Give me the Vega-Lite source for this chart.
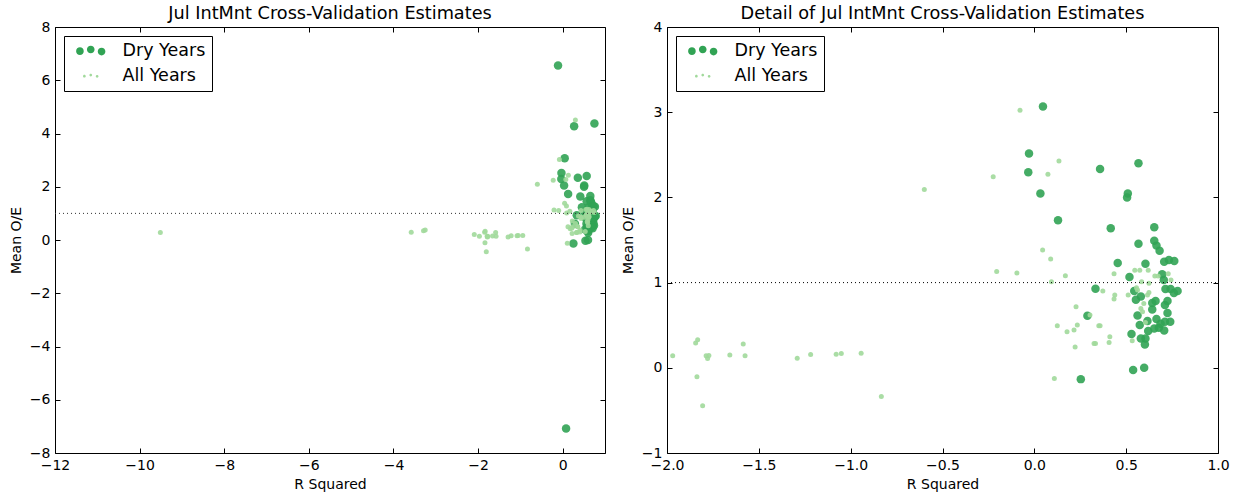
{
  "$schema": "https://vega.github.io/schema/vega-lite/v6.json",
  "padding": {"left": 8, "top": 4, "right": 5, "bottom": 5},
  "spacing": 14,
  "datasets": {
    "pts": [
      {"r2": 0.047, "oe": 3.067, "series": "Dry Years"},
      {"r2": -0.029, "oe": 2.515, "series": "Dry Years"},
      {"r2": -0.033, "oe": 2.295, "series": "Dry Years"},
      {"r2": 0.033, "oe": 2.045, "series": "Dry Years"},
      {"r2": 0.129, "oe": 1.731, "series": "Dry Years"},
      {"r2": 0.358, "oe": 2.334, "series": "Dry Years"},
      {"r2": 0.567, "oe": 2.401, "series": "Dry Years"},
      {"r2": 0.509, "oe": 2.045, "series": "Dry Years"},
      {"r2": 0.505, "oe": 1.998, "series": "Dry Years"},
      {"r2": 0.416, "oe": 1.637, "series": "Dry Years"},
      {"r2": 0.653, "oe": 1.649, "series": "Dry Years"},
      {"r2": 0.567, "oe": 1.457, "series": "Dry Years"},
      {"r2": 0.653, "oe": 1.492, "series": "Dry Years"},
      {"r2": 0.665, "oe": 1.434, "series": "Dry Years"},
      {"r2": 0.682, "oe": 1.375, "series": "Dry Years"},
      {"r2": 0.454, "oe": 1.23, "series": "Dry Years"},
      {"r2": 0.605, "oe": 1.222, "series": "Dry Years"},
      {"r2": 0.707, "oe": 1.246, "series": "Dry Years"},
      {"r2": 0.733, "oe": 1.265, "series": "Dry Years"},
      {"r2": 0.762, "oe": 1.253, "series": "Dry Years"},
      {"r2": 0.518, "oe": 1.065, "series": "Dry Years"},
      {"r2": 0.333, "oe": 0.928, "series": "Dry Years"},
      {"r2": 0.289, "oe": 0.611, "series": "Dry Years"},
      {"r2": 0.544, "oe": 0.901, "series": "Dry Years"},
      {"r2": 0.58, "oe": 0.838, "series": "Dry Years"},
      {"r2": 0.553, "oe": 0.8, "series": "Dry Years"},
      {"r2": 0.696, "oe": 1.097, "series": "Dry Years"},
      {"r2": 0.705, "oe": 1.03, "series": "Dry Years"},
      {"r2": 0.714, "oe": 0.924, "series": "Dry Years"},
      {"r2": 0.742, "oe": 0.924, "series": "Dry Years"},
      {"r2": 0.76, "oe": 0.877, "series": "Dry Years"},
      {"r2": 0.78, "oe": 0.901, "series": "Dry Years"},
      {"r2": 0.66, "oe": 0.783, "series": "Dry Years"},
      {"r2": 0.642, "oe": 0.76, "series": "Dry Years"},
      {"r2": 0.711, "oe": 0.736, "series": "Dry Years"},
      {"r2": 0.725, "oe": 0.783, "series": "Dry Years"},
      {"r2": 0.642, "oe": 0.685, "series": "Dry Years"},
      {"r2": 0.725, "oe": 0.642, "series": "Dry Years"},
      {"r2": 0.562, "oe": 0.615, "series": "Dry Years"},
      {"r2": 0.574, "oe": 0.501, "series": "Dry Years"},
      {"r2": 0.616, "oe": 0.548, "series": "Dry Years"},
      {"r2": 0.665, "oe": 0.572, "series": "Dry Years"},
      {"r2": 0.711, "oe": 0.541, "series": "Dry Years"},
      {"r2": 0.74, "oe": 0.541, "series": "Dry Years"},
      {"r2": 0.687, "oe": 0.517, "series": "Dry Years"},
      {"r2": 0.62, "oe": 0.431, "series": "Dry Years"},
      {"r2": 0.653, "oe": 0.462, "series": "Dry Years"},
      {"r2": 0.678, "oe": 0.47, "series": "Dry Years"},
      {"r2": 0.707, "oe": 0.439, "series": "Dry Years"},
      {"r2": 0.605, "oe": 0.345, "series": "Dry Years"},
      {"r2": 0.529, "oe": 0.396, "series": "Dry Years"},
      {"r2": 0.58, "oe": 0.345, "series": "Dry Years"},
      {"r2": 0.602, "oe": 0.274, "series": "Dry Years"},
      {"r2": 0.538, "oe": -0.027, "series": "Dry Years"},
      {"r2": 0.598, "oe": 0.0, "series": "Dry Years"},
      {"r2": 0.253, "oe": -0.133, "series": "Dry Years"},
      {"r2": -0.11, "oe": 6.55, "series": "Dry Years"},
      {"r2": 0.08, "oe": -7.08, "series": "Dry Years"},
      {"r2": 0.27, "oe": 4.27, "series": "Dry Years"},
      {"r2": 0.75, "oe": 4.38, "series": "Dry Years"},
      {"r2": -9.51, "oe": 0.28, "series": "All Years"},
      {"r2": -3.58, "oe": 0.29, "series": "All Years"},
      {"r2": -3.29, "oe": 0.35, "series": "All Years"},
      {"r2": -3.25, "oe": 0.38, "series": "All Years"},
      {"r2": -2.09, "oe": 0.21, "series": "All Years"},
      {"r2": -1.969, "oe": 0.141, "series": "All Years"},
      {"r2": -1.844, "oe": 0.29, "series": "All Years"},
      {"r2": -1.833, "oe": 0.33, "series": "All Years"},
      {"r2": -1.837, "oe": -0.106, "series": "All Years"},
      {"r2": -1.806, "oe": -0.446, "series": "All Years"},
      {"r2": -1.787, "oe": 0.141, "series": "All Years"},
      {"r2": -1.779, "oe": 0.11, "series": "All Years"},
      {"r2": -1.772, "oe": 0.145, "series": "All Years"},
      {"r2": -1.658, "oe": 0.149, "series": "All Years"},
      {"r2": -1.585, "oe": 0.278, "series": "All Years"},
      {"r2": -1.575, "oe": 0.141, "series": "All Years"},
      {"r2": -1.291, "oe": 0.113, "series": "All Years"},
      {"r2": -1.218, "oe": 0.156, "series": "All Years"},
      {"r2": -1.079, "oe": 0.16, "series": "All Years"},
      {"r2": -1.051, "oe": 0.168, "series": "All Years"},
      {"r2": -0.943, "oe": 0.172, "series": "All Years"},
      {"r2": -0.833, "oe": -0.336, "series": "All Years"},
      {"r2": -0.599, "oe": 2.093, "series": "All Years"},
      {"r2": -0.224, "oe": 2.242, "series": "All Years"},
      {"r2": -0.078, "oe": 3.024, "series": "All Years"},
      {"r2": -0.205, "oe": 1.131, "series": "All Years"},
      {"r2": -0.095, "oe": 1.112, "series": "All Years"},
      {"r2": 0.134, "oe": 2.428, "series": "All Years"},
      {"r2": 0.074, "oe": 2.272, "series": "All Years"},
      {"r2": 0.045, "oe": 1.383, "series": "All Years"},
      {"r2": 0.089, "oe": 1.277, "series": "All Years"},
      {"r2": 0.169, "oe": 1.081, "series": "All Years"},
      {"r2": 0.093, "oe": 1.011, "series": "All Years"},
      {"r2": 0.373, "oe": 0.901, "series": "All Years"},
      {"r2": 0.434, "oe": 1.105, "series": "All Years"},
      {"r2": 0.438, "oe": 0.854, "series": "All Years"},
      {"r2": 0.434, "oe": 0.807, "series": "All Years"},
      {"r2": 0.511, "oe": 0.854, "series": "All Years"},
      {"r2": 0.547, "oe": 1.144, "series": "All Years"},
      {"r2": 0.574, "oe": 1.144, "series": "All Years"},
      {"r2": 0.62, "oe": 1.144, "series": "All Years"},
      {"r2": 0.656, "oe": 1.077, "series": "All Years"},
      {"r2": 0.674, "oe": 1.077, "series": "All Years"},
      {"r2": 0.729, "oe": 1.105, "series": "All Years"},
      {"r2": 0.744, "oe": 1.03, "series": "All Years"},
      {"r2": 0.584, "oe": 1.011, "series": "All Years"},
      {"r2": 0.624, "oe": 0.991, "series": "All Years"},
      {"r2": 0.556, "oe": 0.94, "series": "All Years"},
      {"r2": 0.562, "oe": 0.913, "series": "All Years"},
      {"r2": 0.624, "oe": 0.885, "series": "All Years"},
      {"r2": 0.616, "oe": 0.854, "series": "All Years"},
      {"r2": 0.596, "oe": 0.756, "series": "All Years"},
      {"r2": 0.58, "oe": 0.697, "series": "All Years"},
      {"r2": 0.227, "oe": 0.717, "series": "All Years"},
      {"r2": 0.125, "oe": 0.494, "series": "All Years"},
      {"r2": 0.178, "oe": 0.423, "series": "All Years"},
      {"r2": 0.216, "oe": 0.443, "series": "All Years"},
      {"r2": 0.234, "oe": 0.501, "series": "All Years"},
      {"r2": 0.303, "oe": 0.619, "series": "All Years"},
      {"r2": 0.351, "oe": 0.494, "series": "All Years"},
      {"r2": 0.358, "oe": 0.494, "series": "All Years"},
      {"r2": 0.222, "oe": 0.243, "series": "All Years"},
      {"r2": 0.325, "oe": 0.286, "series": "All Years"},
      {"r2": 0.333, "oe": 0.286, "series": "All Years"},
      {"r2": 0.411, "oe": 0.364, "series": "All Years"},
      {"r2": 0.407, "oe": 0.298, "series": "All Years"},
      {"r2": 0.533, "oe": 0.317, "series": "All Years"},
      {"r2": 0.589, "oe": 0.658, "series": "All Years"},
      {"r2": 0.605, "oe": 0.533, "series": "All Years"},
      {"r2": 0.109, "oe": -0.125, "series": "All Years"},
      {"r2": 0.3, "oe": 4.51, "series": "All Years"}
    ],
    "ref": [{"level": 1}]
  },
  "hconcat": [
    {
      "title": "Jul IntMnt Cross-Validation Estimates",
      "width": 550,
      "height": 426,
      "resolve": {"axis": {"x": "independent", "y": "independent"}},
      "layer": [
        {
          "data": {"name": "pts"},
          "mark": {"type": "point", "filled": true, "fillOpacity": 0.9, "strokeOpacity": 0.9, "strokeWidth": 1},
          "encoding": {
            "x": {"field": "r2", "type": "quantitative", "title": "R Squared",
                  "scale": {"domain": [-12, 1], "nice": false, "zero": false},
                  "axis": {"values": [-12, -10, -8, -6, -4, -2, 0]}},
            "y": {"field": "oe", "type": "quantitative", "title": "Mean O/E",
                  "scale": {"domain": [-8, 8], "nice": false, "zero": false},
                  "axis": {"values": [-8, -6, -4, -2, 0, 2, 4, 6, 8]}},
            "color": {"field": "series", "type": "nominal",
                      "scale": {"domain": ["Dry Years", "All Years"], "range": ["#31a354", "#a1d99b"]},
                      "legend": {"title": null, "orient": "top-left", "offset": 9, "padding": 6,
                                 "strokeColor": "#000", "fillColor": "#fff", "cornerRadius": 0,
                                 "labelFontSize": 17.5, "labelColor": "#000", "symbolSize": 100,
                                 "symbolOffset": 12, "labelOffset": 23, "rowPadding": 6,
                                 "encoding": {"symbols": {"size": {"value": 100}, "shape": {"condition": {"test": "datum.value == 'Dry Years'", "value": "M-1.65,0.1 A0.9,0.9 0 1,1 -3.45,0.1 A0.9,0.9 0 1,1 -1.65,0.1 Z M0.9,-0.3 A0.9,0.9 0 1,1 -0.9,-0.3 A0.9,0.9 0 1,1 0.9,-0.3 Z M3.45,0.2 A0.9,0.9 0 1,1 1.65,0.2 A0.9,0.9 0 1,1 3.45,0.2 Z"}, "value": "M-2.0,0.15 A0.55,0.55 0 1,1 -3.1,0.15 A0.55,0.55 0 1,1 -2.0,0.15 Z M0.55,-0.3 A0.55,0.55 0 1,1 -0.55,-0.3 A0.55,0.55 0 1,1 0.55,-0.3 Z M3.1,0.2 A0.55,0.55 0 1,1 2.0,0.2 A0.55,0.55 0 1,1 3.1,0.2 Z"}}}}},
            "size": {"field": "series", "type": "nominal",
                     "scale": {"domain": ["Dry Years", "All Years"], "range": [72, 25]},
                     "legend": null}
          }
        },
        {
          "data": {"name": "ref"},
          "mark": {"type": "rule", "color": "#333", "strokeDash": [1, 3], "strokeWidth": 1},
          "encoding": {
            "y": {"field": "level", "type": "quantitative",
                  "scale": {"domain": [-8, 8], "nice": false, "zero": false},
                  "axis": {"orient": "right", "labels": false, "title": null, "minExtent": 0, "maxExtent": 0, "values": [-8, -6, -4, -2, 0, 2, 4, 6, 8]}},
            "x": {"datum": -12, "type": "quantitative",
                  "scale": {"domain": [-12, 1], "nice": false, "zero": false},
                  "axis": {"orient": "top", "labels": false, "title": null, "minExtent": 0, "maxExtent": 0, "values": [-12, -10, -8, -6, -4, -2, 0]}},
            "x2": {"datum": 1}
          }
        }
      ]
    },
    {
      "title": "Detail of Jul IntMnt Cross-Validation Estimates",
      "width": 551,
      "height": 426,
      "resolve": {"axis": {"x": "independent", "y": "independent"}},
      "layer": [
        {
          "data": {"name": "pts"},
          "mark": {"type": "point", "filled": true, "fillOpacity": 0.9, "strokeOpacity": 0.9, "strokeWidth": 1, "clip": true},
          "encoding": {
            "x": {"field": "r2", "type": "quantitative", "title": "R Squared",
                  "scale": {"domain": [-2, 1], "nice": false, "zero": false},
                  "axis": {"values": [-2, -1.5, -1, -0.5, 0, 0.5, 1], "format": ".1f"}},
            "y": {"field": "oe", "type": "quantitative", "title": "Mean O/E",
                  "scale": {"domain": [-1, 4], "nice": false, "zero": false},
                  "axis": {"values": [-1, 0, 1, 2, 3, 4]}},
            "color": {"field": "series", "type": "nominal",
                      "scale": {"domain": ["Dry Years", "All Years"], "range": ["#31a354", "#a1d99b"]},
                      "legend": {"title": null, "orient": "top-left", "offset": 9, "padding": 6,
                                 "strokeColor": "#000", "fillColor": "#fff", "cornerRadius": 0,
                                 "labelFontSize": 17.5, "labelColor": "#000", "symbolSize": 100,
                                 "symbolOffset": 12, "labelOffset": 23, "rowPadding": 6,
                                 "encoding": {"symbols": {"size": {"value": 100}, "shape": {"condition": {"test": "datum.value == 'Dry Years'", "value": "M-1.65,0.1 A0.9,0.9 0 1,1 -3.45,0.1 A0.9,0.9 0 1,1 -1.65,0.1 Z M0.9,-0.3 A0.9,0.9 0 1,1 -0.9,-0.3 A0.9,0.9 0 1,1 0.9,-0.3 Z M3.45,0.2 A0.9,0.9 0 1,1 1.65,0.2 A0.9,0.9 0 1,1 3.45,0.2 Z"}, "value": "M-2.0,0.15 A0.55,0.55 0 1,1 -3.1,0.15 A0.55,0.55 0 1,1 -2.0,0.15 Z M0.55,-0.3 A0.55,0.55 0 1,1 -0.55,-0.3 A0.55,0.55 0 1,1 0.55,-0.3 Z M3.1,0.2 A0.55,0.55 0 1,1 2.0,0.2 A0.55,0.55 0 1,1 3.1,0.2 Z"}}}}},
            "size": {"field": "series", "type": "nominal",
                     "scale": {"domain": ["Dry Years", "All Years"], "range": [72, 25]},
                     "legend": null}
          }
        },
        {
          "data": {"name": "ref"},
          "mark": {"type": "rule", "color": "#000", "strokeDash": [1, 3], "strokeWidth": 1},
          "encoding": {
            "y": {"field": "level", "type": "quantitative",
                  "scale": {"domain": [-1, 4], "nice": false, "zero": false},
                  "axis": {"orient": "right", "labels": false, "title": null, "minExtent": 0, "maxExtent": 0, "values": [-1, 0, 1, 2, 3, 4]}},
            "x": {"datum": -2, "type": "quantitative",
                  "scale": {"domain": [-2, 1], "nice": false, "zero": false},
                  "axis": {"orient": "top", "labels": false, "title": null, "minExtent": 0, "maxExtent": 0, "values": [-2, -1.5, -1, -0.5, 0, 0.5, 1]}},
            "x2": {"datum": 1}
          }
        }
      ]
    }
  ],
  "resolve": {"scale": {"color": "independent", "size": "independent"}},
  "config": {
    "font": "DejaVu Sans",
    "background": "#ffffff",
    "view": {"stroke": "#000", "strokeWidth": 1},
    "axis": {"grid": false, "domain": false, "tickColor": "#000", "tickSize": -5, "tickWidth": 1,
             "labelFontSize": 14, "labelColor": "#000", "labelPadding": 10, "labelFlush": false, "labelOverlap": false,
             "titleFontSize": 14, "titleFontWeight": "normal", "titleColor": "#000", "titlePadding": 6},
    "axisX": {"labelPadding": 10.5, "titlePadding": 5},
    "title": {"fontSize": 17.7, "fontWeight": "normal", "color": "#000", "offset": -3}
  }
}
